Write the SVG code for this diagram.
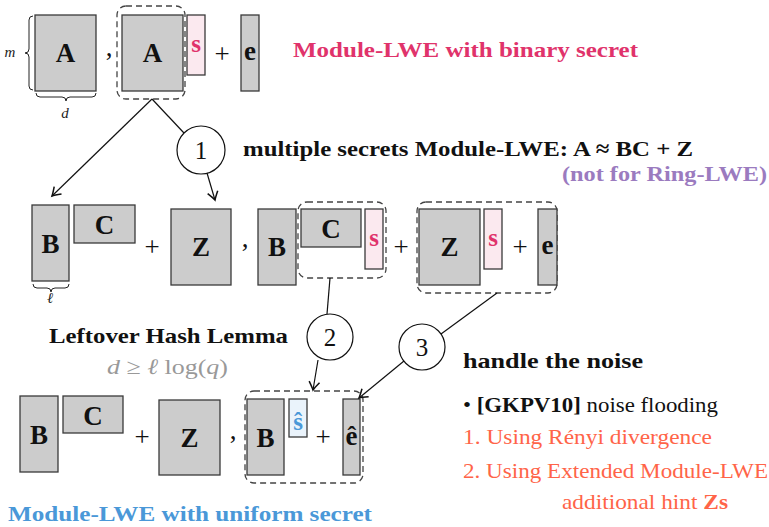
<svg xmlns="http://www.w3.org/2000/svg" width="769" height="527" viewBox="0 0 769 527">
<style>
.m{fill:#cccccc;stroke:#3a3a3a;stroke-width:1.3}
.sp{fill:#fbe9ef;stroke:#3a3a3a;stroke-width:1.3}
.sb{fill:#eaf3fb;stroke:#3a3a3a;stroke-width:1.3}
.dash{fill:none;stroke:#444;stroke-width:1.3;stroke-dasharray:6,4}
.lbl{font-family:"Liberation Serif",serif;font-weight:bold;font-size:27px;fill:#111;text-anchor:middle}
.sl{font-family:"Liberation Serif",serif;font-weight:bold;font-size:25px;fill:#e0336b;text-anchor:middle}
.op{font-family:"Liberation Serif",serif;font-size:27px;fill:#111;text-anchor:middle}
.it{font-family:"Liberation Serif",serif;font-style:italic;font-size:15px;fill:#222;text-anchor:middle}
.t{font-family:"Liberation Serif",serif;font-size:22px}
.b{font-weight:bold}
.con line{stroke:#111;stroke-width:1.2}
.br{fill:none;stroke:#222;stroke-width:1}
.circ{fill:#fff;stroke:#111;stroke-width:1.2}
.num{font-family:"Liberation Serif",serif;font-size:25px;fill:#111;text-anchor:middle}
</style>
<defs>
<marker id="ar" markerUnits="userSpaceOnUse" markerWidth="14" markerHeight="14" viewBox="-10 -6 12 12" refX="0" refY="0" orient="auto">
<path d="M-7,-4.5 Q-2,-1 0,0 Q-2,1 -7,4.5" fill="none" stroke="#111" stroke-width="1.3"/>
</marker>
</defs>

<!-- top row -->
<g id="top-row">
<text class="it" x="10" y="57">m</text>
<path class="br" d="M33,16 Q29,16 29,20 L29,49 Q29,53 25,53 Q29,53 29,57 L29,86 Q29,90 33,90"/>
<g id="A1"><rect class="m" x="35" y="15" width="61" height="76"/><text class="lbl" x="65.5" y="62">A</text></g>
<path class="br" d="M36,93 Q36,97 40,97 L62,97 Q66,97 66,101 Q66,97 70,97 L92,97 Q96,97 96,93"/>
<text class="it" x="65" y="118">d</text>
<text class="op" x="109" y="56">,</text>
<rect id="box-A" class="dash" x="117" y="6" width="68" height="93" rx="9"/>
<g id="A2"><rect class="m" x="122" y="15" width="61" height="76"/><text class="lbl" x="152.5" y="62">A</text></g>
<g id="s1"><rect class="sp" x="187" y="15" width="18" height="60"/><text class="sl" x="196" y="52">s</text></g>
<text class="op" x="222" y="63">+</text>
<g id="e1"><rect class="m" x="241" y="15" width="18" height="76"/><text class="lbl" x="250" y="60">e</text></g>
<text class="t b" x="293" y="57" fill="#e0336b" font-size="23" textLength="345" lengthAdjust="spacingAndGlyphs">Module-LWE with binary secret</text>
</g>

<!-- middle row -->
<g id="mid-row">
<g id="B1"><rect class="m" x="32" y="205" width="37" height="76"/><text class="lbl" x="50.5" y="253">B</text></g>
<path class="br" d="M33,284 Q33,288 37,288 L47,288 Q51,288 51,292 Q51,288 55,288 L65,288 Q69,288 69,284"/>
<text class="it" x="50" y="303">ℓ</text>
<g id="C1"><rect class="m" x="74" y="205" width="61" height="38"/><text class="lbl" x="104.5" y="234">C</text></g>
<text class="op" x="152" y="256">+</text>
<g id="Z1"><rect class="m" x="171" y="209" width="60" height="76"/><text class="lbl" x="201" y="256">Z</text></g>
<text class="op" x="245" y="247">,</text>
<g id="B2"><rect class="m" x="258" y="209" width="38" height="76"/><text class="lbl" x="277" y="256">B</text></g>
<rect id="box-Cs" class="dash" x="298" y="202" width="88" height="76" rx="9"/>
<g id="C2"><rect class="m" x="301" y="209" width="60" height="38"/><text class="lbl" x="331" y="238">C</text></g>
<g id="s2"><rect class="sp" x="365" y="209" width="18" height="60"/><text class="sl" x="374" y="246">s</text></g>
<text class="op" x="401" y="256">+</text>
<rect id="box-Zse" class="dash" x="417" y="202" width="140" height="91" rx="9"/>
<g id="Z2"><rect class="m" x="419" y="209" width="61" height="76"/><text class="lbl" x="449.5" y="256">Z</text></g>
<g id="s3"><rect class="sp" x="484" y="209" width="18" height="60"/><text class="sl" x="493" y="246">s</text></g>
<text class="op" x="520" y="256">+</text>
<g id="e2"><rect class="m" x="538" y="209" width="19" height="76"/><text class="lbl" x="547.5" y="254">e</text></g>
<text class="t b" x="243" y="156" fill="#111" font-size="23" textLength="450" lengthAdjust="spacingAndGlyphs">multiple secrets Module-LWE: A ≈ BC + Z</text>
<text class="t b" x="562" y="181" fill="#9b7bbf" font-size="23" textLength="205" lengthAdjust="spacingAndGlyphs">(not for Ring-LWE)</text>
</g>

<!-- bottom row -->
<g id="bottom-row">
<text class="t b" x="49" y="343" fill="#111" font-size="23" textLength="239" lengthAdjust="spacingAndGlyphs">Leftover Hash Lemma</text>
<text class="t" x="107" y="374" fill="#999" font-size="23" textLength="121" lengthAdjust="spacingAndGlyphs"><tspan font-style="italic">d</tspan> ≥ <tspan font-style="italic">ℓ</tspan> log(<tspan font-style="italic">q</tspan>)</text>
<g id="B3"><rect class="m" x="20" y="396" width="38" height="76"/><text class="lbl" x="39" y="444">B</text></g>
<g id="C3"><rect class="m" x="63" y="396" width="60" height="37"/><text class="lbl" x="93" y="425">C</text></g>
<text class="op" x="142" y="446">+</text>
<g id="Z3"><rect class="m" x="159" y="400" width="61" height="75"/><text class="lbl" x="189.5" y="447">Z</text></g>
<text class="op" x="233" y="439">,</text>
<rect id="box-Bse" class="dash" x="245" y="391" width="118" height="92" rx="9"/>
<g id="B4"><rect class="m" x="247" y="399" width="37" height="76"/><text class="lbl" x="265.5" y="447">B</text></g>
<g id="shat"><rect class="sb" x="289" y="399" width="18" height="38"/><text class="sl" x="298" y="430" style="fill:#4a98d8">ŝ</text></g>
<text class="op" x="323" y="446">+</text>
<g id="ehat"><rect class="m" x="343" y="399" width="17" height="76"/><text class="lbl" x="351.5" y="445">ê</text></g>
<text class="t b" x="8" y="521" fill="#4a98d8" font-size="23" textLength="364" lengthAdjust="spacingAndGlyphs">Module-LWE with uniform secret</text>
</g>

<!-- right list -->
<g id="noise-list">
<text class="t b" x="463" y="368" fill="#111" font-size="23" textLength="180" lengthAdjust="spacingAndGlyphs">handle the noise</text>
<text class="t" x="463" y="412" fill="#111" textLength="255" lengthAdjust="spacingAndGlyphs">• <tspan class="b">[GKPV10]</tspan> noise flooding</text>
<text class="t" x="463" y="444" fill="#ff6448" textLength="249" lengthAdjust="spacingAndGlyphs">1. Using Rényi divergence</text>
<text class="t" x="463" y="478" fill="#ff6448" textLength="305" lengthAdjust="spacingAndGlyphs">2. Using Extended Module-LWE</text>
<text class="t" x="562" y="509" fill="#ff6448" textLength="166" lengthAdjust="spacingAndGlyphs">additional hint <tspan class="b">Zs</tspan></text>
</g>

<!-- circles -->
<g id="c1"><circle class="circ" cx="201" cy="150" r="24"/><text class="num" x="201" y="159">1</text></g>
<g id="c2"><circle class="circ" cx="330" cy="337" r="23"/><text class="num" x="330" y="346">2</text></g>
<g id="c3"><circle class="circ" cx="422" cy="347" r="23"/><text class="num" x="422" y="356">3</text></g>

<!-- connectors -->
<g id="connectors" class="con">
<line x1="152" y1="99" x2="52" y2="196" marker-end="url(#ar)"/>
<line x1="152" y1="99" x2="184" y2="133"/>
<line x1="207" y1="173" x2="215" y2="200" marker-end="url(#ar)"/>
<line x1="330" y1="278" x2="327" y2="314"/>
<line x1="318" y1="360" x2="313" y2="390" marker-end="url(#ar)"/>
<line x1="497" y1="293" x2="441" y2="334"/>
<line x1="404" y1="361" x2="359" y2="398" marker-end="url(#ar)"/>
</g>
</svg>
